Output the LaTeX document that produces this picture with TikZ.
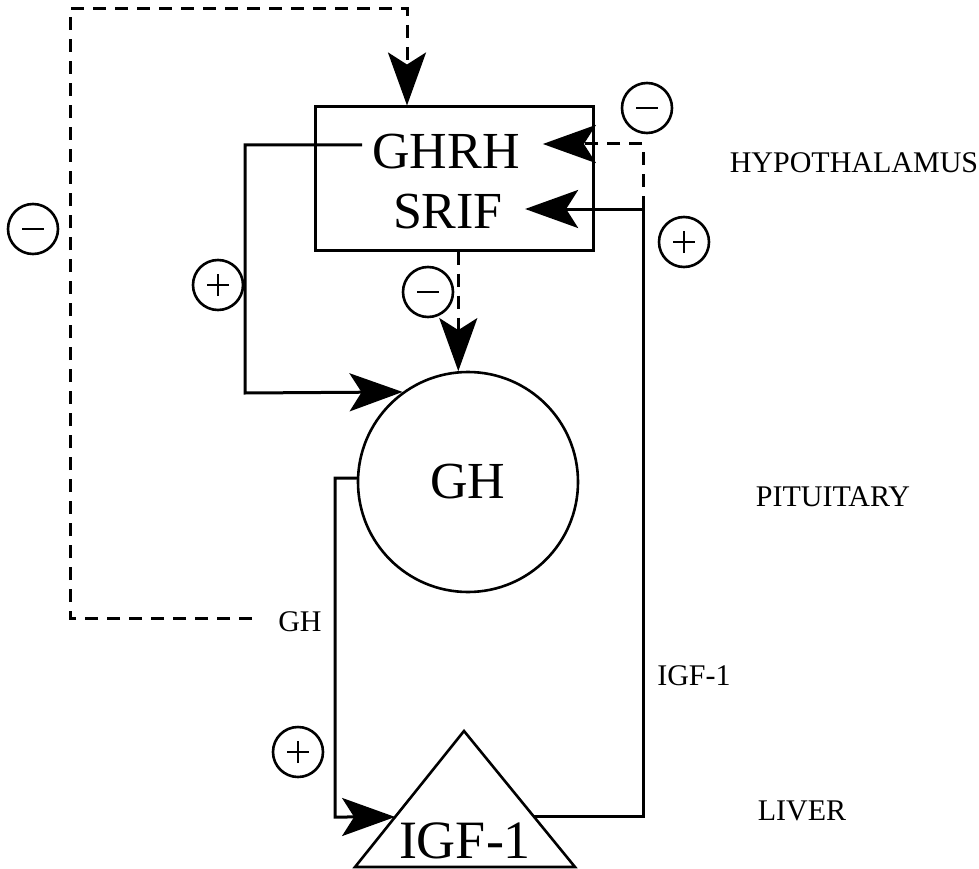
\documentclass[tikz,border=0pt]{standalone}
\usepackage{fontspec}
\setmainfont{Liberation Serif}
\usetikzlibrary{arrows.meta,calc}
\begin{document}
\begin{tikzpicture}[x=1pt,y=-1pt,
  conn/.style={line width=3pt},
  dashconn/.style={line width=3pt, dash pattern=on 13pt off 9pt},
  tip/.style={-{Stealth[length=53pt,width=38pt,inset=12pt]}},
  big/.style={font=\fontsize{52}{52}\selectfont, inner sep=0pt},
  lab/.style={font=\fontsize{30}{30}\selectfont, inner sep=0pt},
  sign/.style={circle, draw, line width=2.6pt, minimum size=50pt, inner sep=0pt},
  signline/.style={line width=2.4pt},
]
\useasboundingbox (0,0) rectangle (979,869);

% hypothalamus box and its texts
\node[draw, line width=3pt, minimum width=278pt, minimum height=143pt, inner sep=0pt] (hyp) at (454,178.5) {};
\node[big] (ghrh) at (446,152) {GHRH};
\node[big] (srif) at (448,212) {SRIF};

% pituitary circle
\node[circle, draw, line width=2.6pt, minimum size=220pt, big] (gh) at (468,482) {GH};

% liver triangle
\coordinate (tA) at (464,731);
\coordinate (tL) at (355,867);
\coordinate (tR) at (575,867);
\draw[line width=2.6pt, line join=miter] (tA) -- (tR) -- (tL) -- cycle;
\node[font=\fontsize{54}{54}\selectfont, inner sep=0pt] (igf) at (465,841) {IGF-1};
\coordinate (liverL) at ($(tA)!0.632!(tL)$);
\coordinate (liverR) at ($(tA)!0.632!(tR)$);

% side labels
\node[lab] (hypl) at (854,163) {HYPOTHALAMUS};
\node[lab] (pitl) at (833,497) {PITUITARY};
\node[lab] (livl) at (802,811) {LIVER};
\node[lab] (ghlab) at (300,622) {GH};
\node[lab] (igflab) at (694,676) {IGF-1};

% GH negative feedback to hypothalamus (dashed)
\coordinate (fbstart) at (252,618);
\coordinate (fbtop) at (407,9);
\draw[dashconn, tip] (fbstart) -| (70,9) -| (hyp.north -| fbtop);

% GHRH stimulates GH
\coordinate (ghrhout) at ([xshift=-10pt,yshift=7pt]ghrh.west);
\coordinate (lc) at (245,393);
\draw[conn, tip] (ghrhout) -| (lc) -- (gh.126);

% SRIF inhibits GH
\draw[dashconn, tip] (hyp.south -| gh.95) -- (gh.95);

% GH to liver
\coordinate (gl) at (335,817);
\draw[conn, tip] (gh.178) -| (gl) -- (liverL);

% IGF-1 feedback
\coordinate (stip) at ([xshift=22pt,yshift=3pt]srif.east);
\coordinate (rj) at (643,209);
\coordinate (gtip) at ([xshift=23pt,yshift=8pt]ghrh.east);
\draw[conn, tip] (liverR) -| (rj) -- (stip);
\draw[dashconn, tip] (rj) |- (gtip);

% signs
\node[sign] (m1) at (647,108) {};
\node[sign] (p1) at (684,242) {};
\node[sign] (m2) at (33,229) {};
\node[sign] (p2) at (218,285) {};
\node[sign] (m3) at (428,292) {};
\node[sign] (p3) at (298,752) {};
\foreach \s in {m1,p1,m2,p2,m3,p3}
  \draw[signline] ([xshift=-11pt]\s.center) -- ([xshift=11pt]\s.center);
\foreach \s in {p1,p2,p3}
  \draw[signline] ([yshift=-11pt]\s.center) -- ([yshift=11pt]\s.center);
\end{tikzpicture}
\end{document}
